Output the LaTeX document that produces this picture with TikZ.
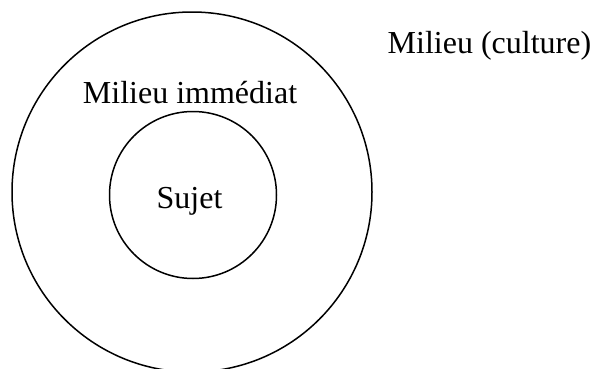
\documentclass[tikz,border=0pt]{standalone}
\usepackage{fontspec}
\setmainfont{Liberation Serif}
\begin{document}
\begin{tikzpicture}[x=1pt,y=1pt,
  ring/.style={draw=black,line width=1.5pt,circle,inner sep=0pt},
  lbl/.style={inner sep=0pt,font=\fontsize{32}{38}\selectfont}]
\useasboundingbox (0,0) rectangle (594,368);
\begin{scope}
\clip (0,0) rectangle (594,368);
\node[ring,minimum size=360pt] (outer) at (192,176) {};
\end{scope}
\node[ring,minimum size=167pt] (inner) at (193,173) {};
\node[lbl,anchor=base] (sujet) at (189.5,160) {Sujet};
\node[lbl,anchor=base] (imm) at (190,265) {Milieu immédiat};
\node[lbl,anchor=base west] (cult) at (387.5,315) {Milieu (culture)};
\end{tikzpicture}
\end{document}
